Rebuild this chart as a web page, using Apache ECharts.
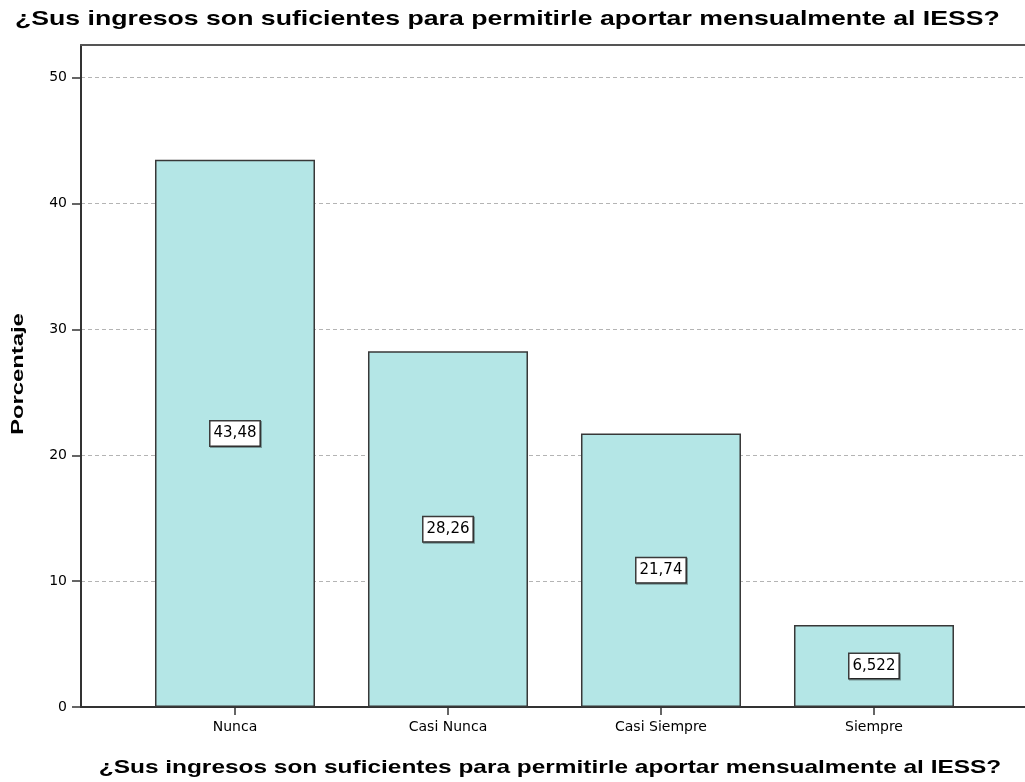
<!DOCTYPE html>
<html>
<head>
<meta charset="utf-8">
<script src="https://cdn.jsdelivr.net/npm/echarts@6/dist/echarts.min.js"></script>
<style>
html,body{margin:0;padding:0;background:#fff;}
#chart{width:1025px;height:782px;}
</style>
</head>
<body>
<div id="chart"></div>
<script>
const chartTitle = '¿Sus ingresos son suficientes para permitirle aportar mensualmente al IESS?';
const xAxisName = '¿Sus ingresos son suficientes para permitirle aportar mensualmente al IESS?';
const yAxisName = 'Porcentaje';
const categories = ['Nunca', 'Casi Nunca', 'Casi Siempre', 'Siempre'];
const percentages = [43.48, 28.26, 21.74, 6.522];
const yTicks = [0, 10, 20, 30, 40, 50];

const positions = categories.map((c, i) => i);
const seriesData = percentages.map((v, i) => [positions[i], v]);

const chart = echarts.init(document.getElementById('chart'), null, {renderer: 'canvas'});
const smallFont = 'DejaVu Sans';
const boldFont = 'Liberation Sans';

chart.setOption({
  animation: false,
  backgroundColor: '#ffffff',
  grid: {left: 81, top: 45, right: 0, bottom: 75, containLabel: false},
  xAxis: [{
    type: 'value',
    min: -0.723,
    max: 3.709,
    splitLine: {show: false},
    axisLine: {show: true, onZero: false, lineStyle: {color: '#333333', width: 2}},
    axisTick: {show: true, customValues: positions, length: 8, lineStyle: {color: '#333333', width: 1.5}},
    axisLabel: {
      customValues: positions,
      formatter: v => categories[Math.round(v)] || '',
      fontFamily: smallFont, fontSize: 14, color: '#000', margin: 13
    }
  }, {
    type: 'value',
    position: 'top',
    min: -0.723,
    max: 3.709,
    splitLine: {show: false},
    axisLine: {show: true, onZero: false, lineStyle: {color: '#555555', width: 2}},
    axisTick: {show: false},
    axisLabel: {show: false}
  }],
  yAxis: {
    type: 'value',
    min: 0,
    max: 52.6,
    position: 'left',
    axisLine: {show: true, onZero: false, lineStyle: {color: '#333333', width: 2}},
    axisTick: {show: true, customValues: yTicks, length: 9, lineStyle: {color: '#333333', width: 1.5}},
    axisLabel: {customValues: yTicks, fontFamily: smallFont, fontSize: 14, color: '#000', margin: 14},
    splitLine: {show: true, lineStyle: {color: '#b4b4b4', type: [4, 3], width: 1}}
  },
  series: [{
    type: 'bar',
    xAxisIndex: 0,
    data: seriesData,
    barWidth: 160,
    itemStyle: {color: '#b4e6e6', borderColor: '#383838', borderWidth: 1.5},
    label: {
      show: true,
      position: 'inside',
      formatter: p => String(p.value[1]).replace('.', ','),
      fontFamily: smallFont,
      fontSize: 15,
      color: '#000',
      backgroundColor: '#ffffff',
      borderColor: '#3a3a3a',
      borderWidth: 1.5,
      padding: [5, 3, 4, 3],
      shadowColor: 'rgba(0,0,0,0.35)',
      shadowOffsetX: 1,
      shadowOffsetY: 1,
      shadowBlur: 0
    }
  }],
  graphic: [{
    type: 'text',
    x: 15, y: 9,
    scaleX: 1.3,
    style: {text: chartTitle, fontFamily: boldFont, fontWeight: 'bold', fontSize: 20.5, fill: '#000', align: 'left', verticalAlign: 'top'}
  }, {
    type: 'text',
    x: 550, y: 768,
    scaleX: 1.32,
    style: {text: xAxisName, fontFamily: boldFont, fontWeight: 'bold', fontSize: 18.5, fill: '#000', align: 'center', verticalAlign: 'middle'}
  }, {
    type: 'text',
    x: 18, y: 374,
    rotation: Math.PI / 2,
    scaleX: 1.4,
    style: {text: yAxisName, fontFamily: boldFont, fontWeight: 'bold', fontSize: 17, fill: '#000', align: 'center', verticalAlign: 'middle'}
  }]
});
</script>
</body>
</html>
